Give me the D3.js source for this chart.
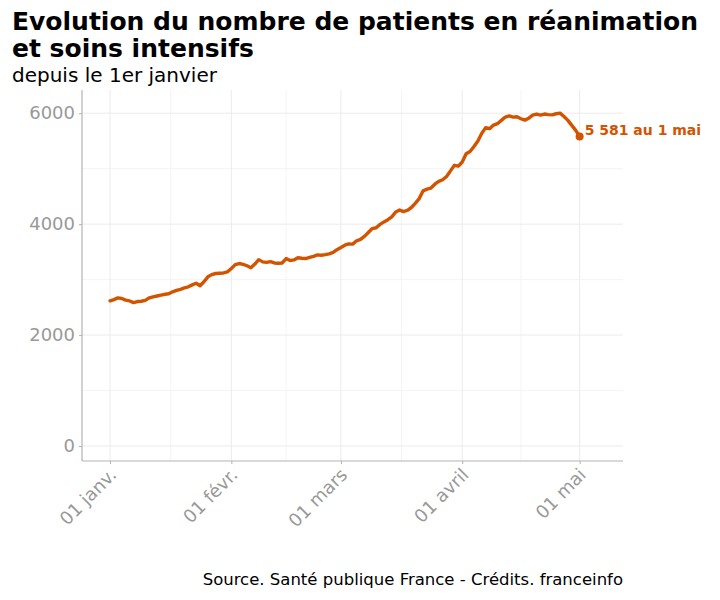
<!DOCTYPE html>
<html><head><meta charset="utf-8">
<script src="https://cdn.jsdelivr.net/npm/d3@7"></script>
<style>body{margin:0;background:#fff;} svg{display:block;font-family:"DejaVu Sans",sans-serif;}</style>
</head><body>
<svg id="chart" width="720" height="600"></svg>
<script>
const startDate = "2021-01-01";
const values = [2618,2640,2670,2660,2630,2615,2585,2605,2610,2625,
2670,2690,2705,2720,2735,2745,2780,2805,2825,2850,
2870,2905,2935,2890,2960,3050,3090,3110,3115,3120,
3140,3200,3270,3290,3275,3250,3215,3280,3360,3320,
3310,3325,3300,3295,3300,3380,3345,3355,3395,3385,
3380,3400,3420,3445,3440,3450,3465,3490,3540,3580,
3620,3645,3640,3700,3725,3780,3850,3920,3935,3995,
4040,4080,4130,4220,4255,4225,4250,4300,4375,4460,
4600,4630,4650,4720,4770,4800,4860,4960,5060,5045,
5120,5270,5310,5400,5500,5640,5740,5720,5785,5810,
5870,5930,5950,5930,5935,5900,5875,5910,5965,5985,
5965,5985,5975,5970,5990,6001,5940,5870,5780,5690,5581];
const xTickDates = ["2021-01-01","2021-02-01","2021-03-01","2021-04-01","2021-05-01"];
const xTickLabels = ["01 janv.","01 févr.","01 mars","01 avril","01 mai"];
const xMinorDates = ["2021-01-16T12:00","2021-02-15","2021-03-16T12:00","2021-04-16"];
const yTicks = [0,2000,4000,6000];
const yMinor = [1000,3000,5000];
const titleLines = ["Evolution du nombre de patients en réanimation","et soins intensifs"];
const subtitle = "depuis le 1er janvier";
const caption = "Source. Santé publique France - Crédits. franceinfo";
const labelText = "5 581 au 1 mai";

(function(){
const parse = s => new Date(s);
const t0 = parse(startDate);
const data = values.map((v,i)=>({date:d3.timeDay.offset(t0,i), value:v}));

const svg = d3.select("#chart");
const color = "#d35400";
const pL=82,pR=623,pT=90,pB=461;

const x = d3.scaleTime()
  .domain([d3.timeHour.offset(t0,-7.15*24), d3.timeHour.offset(t0,131.1*24)])
  .range([pL,pR]);
const y = d3.scaleLinear().domain([-270,6418]).range([pB,pT]);

const g = svg.append("g");
g.selectAll(".ym").data(yMinor).join("line")
  .attr("x1",pL).attr("x2",pR).attr("y1",d=>y(d)).attr("y2",d=>y(d))
  .attr("stroke","#f4f4f4").attr("stroke-width",1);
g.selectAll(".xm").data(xMinorDates).join("line")
  .attr("x1",d=>x(parse(d))).attr("x2",d=>x(parse(d))).attr("y1",pT).attr("y2",pB)
  .attr("stroke","#f4f4f4").attr("stroke-width",1);
g.selectAll(".yg").data(yTicks).join("line")
  .attr("x1",pL).attr("x2",pR).attr("y1",d=>y(d)).attr("y2",d=>y(d))
  .attr("stroke","#ebebeb").attr("stroke-width",1);
g.selectAll(".xg").data(xTickDates).join("line")
  .attr("x1",d=>x(parse(d))).attr("x2",d=>x(parse(d))).attr("y1",pT).attr("y2",pB)
  .attr("stroke","#ebebeb").attr("stroke-width",1);

const yAxis = d3.axisLeft(y).tickValues(yTicks).tickSize(3).tickPadding(4).tickFormat(d3.format("d"));
const ya = svg.append("g").attr("transform",`translate(${pL},0)`).call(yAxis);
ya.select(".domain").attr("d",`M0,${pT}V${pB}`).attr("stroke","#b3b3b3").attr("stroke-width",1.2);
ya.selectAll(".tick line").attr("stroke","#b3b3b3");
ya.selectAll(".tick text").attr("fill","#999999").attr("font-size","18px").attr("font-family","DejaVu Sans");

const xAxis = d3.axisBottom(x).tickValues(xTickDates.map(parse)).tickSize(3)
  .tickFormat((d,i)=>xTickLabels[i]);
const xa = svg.append("g").attr("transform",`translate(0,${pB})`).call(xAxis);
xa.select(".domain").attr("d",`M${pL},0H${pR}`).attr("stroke","#b3b3b3").attr("stroke-width",1.2);
xa.selectAll(".tick line").attr("stroke","#b3b3b3");
xa.selectAll(".tick text").attr("fill","#999999").attr("font-size","18px").attr("font-family","DejaVu Sans")
  .attr("text-anchor","end").attr("dy",null).attr("y",null)
  .attr("transform","translate(7,15) rotate(-45)");

const line = d3.line().x(d=>x(d.date)).y(d=>y(d.value));
svg.append("path").datum(data).attr("d",line).attr("fill","none")
  .attr("stroke",color).attr("stroke-width",3.4).attr("stroke-linejoin","round").attr("stroke-linecap","round");
const last = data[data.length-1];
svg.append("circle").attr("cx",x(last.date)).attr("cy",y(last.value)).attr("r",4).attr("fill",color);
svg.append("text").attr("x",x(last.date)+5).attr("y",y(last.value)-1)
  .attr("fill",color).attr("font-weight","bold").attr("font-size","14px").text(labelText);

svg.selectAll(".title").data(titleLines).join("text")
  .attr("x",12).attr("y",(d,i)=>30+i*27).attr("font-weight","bold").attr("font-size","25px")
  .attr("fill","#000").text(d=>d);
svg.append("text").attr("x",12).attr("y",82).attr("font-size","20px").attr("fill","#000").text(subtitle);
svg.append("text").attr("x",623).attr("y",585).attr("text-anchor","end").attr("font-size","16.5px")
  .attr("fill","#000").text(caption);
})();
</script>
</body></html>
